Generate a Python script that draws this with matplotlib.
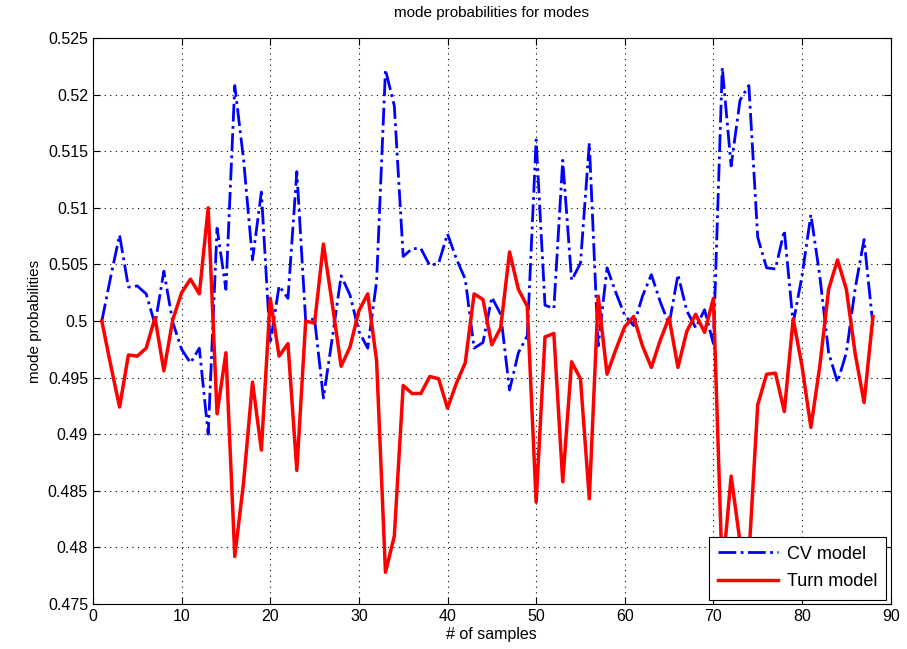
import matplotlib
matplotlib.use("Agg")
import matplotlib.pyplot as plt
from matplotlib import font_manager

samples = list(range(1, 89))

turn_model = [
    0.5000, 0.4961, 0.4924, 0.4970, 0.4969, 0.4976, 0.5003, 0.4956, 0.5001, 0.5025,
    0.5037, 0.5024, 0.5100, 0.4918, 0.4972, 0.4792, 0.4858, 0.4946, 0.4886, 0.5020,
    0.4969, 0.4980, 0.4868, 0.5000, 0.4998, 0.5068, 0.5015, 0.4960, 0.4977, 0.5009,
    0.5024, 0.4965, 0.4778, 0.4810, 0.4943, 0.4936, 0.4936, 0.4951, 0.4949, 0.4923,
    0.4945, 0.4963, 0.5024, 0.5019, 0.4979, 0.4994, 0.5061, 0.5028, 0.5013, 0.4840,
    0.4986, 0.4989, 0.4858, 0.4964, 0.4949, 0.4843, 0.5022, 0.4953, 0.4975, 0.4995,
    0.5004, 0.4978, 0.4959, 0.4983, 0.5003, 0.4959, 0.4991, 0.5006, 0.4990, 0.5020,
    0.4776, 0.4863, 0.4805, 0.4792, 0.4926, 0.4953, 0.4954, 0.4920, 0.5002, 0.4960,
    0.4906, 0.4960, 0.5028, 0.5054, 0.5028, 0.4971, 0.4928, 0.5004,
]

cv_model = [
    0.5000, 0.5039, 0.5076, 0.5030, 0.5031, 0.5024, 0.4997, 0.5044, 0.4999, 0.4975,
    0.4963, 0.4976, 0.4900, 0.5082, 0.5028, 0.5208, 0.5142, 0.5054, 0.5114, 0.4980,
    0.5031, 0.5020, 0.5132, 0.5000, 0.5002, 0.4932, 0.4985, 0.5040, 0.5023, 0.4991,
    0.4976, 0.5035, 0.5222, 0.5190, 0.5057, 0.5064, 0.5064, 0.5049, 0.5051, 0.5077,
    0.5055, 0.5037, 0.4976, 0.4981, 0.5021, 0.5006, 0.4939, 0.4972, 0.4987, 0.5160,
    0.5014, 0.5011, 0.5142, 0.5036, 0.5051, 0.5157, 0.4978, 0.5047, 0.5025, 0.5005,
    0.4996, 0.5022, 0.5041, 0.5017, 0.4997, 0.5041, 0.5009, 0.4994, 0.5010, 0.4980,
    0.5224, 0.5137, 0.5195, 0.5208, 0.5074, 0.5047, 0.5046, 0.5080, 0.4998, 0.5040,
    0.5094, 0.5040, 0.4972, 0.4946, 0.4972, 0.5029, 0.5072, 0.4996,
]

x_ticks = [0, 10, 20, 30, 40, 50, 60, 70, 80, 90]
y_ticks = [0.475, 0.48, 0.485, 0.49, 0.495, 0.5, 0.505, 0.51, 0.515, 0.52, 0.525]
y_tick_labels = ["0.475", "0.48", "0.485", "0.49", "0.495", "0.5", "0.505", "0.51", "0.515", "0.52", "0.525"]

names = {f.name for f in font_manager.fontManager.ttflist}
fam = "Liberation Sans Narrow" if "Liberation Sans Narrow" in names else "Liberation Sans"
plt.rcParams["font.family"] = [fam, "DejaVu Sans"]
plt.rcParams["font.size"] = 11

fig = plt.figure(figsize=(9.07, 6.49), dpi=100)
ax = fig.add_axes([0.1025, 0.0693, 0.8795, 0.8721])

ax.plot(samples, cv_model, color="#0000ff", linestyle="-.", linewidth=2.0, label="CV model")
ax.plot(samples, turn_model, color="#ff0000", linestyle="-", linewidth=2.5, label="Turn model")

ax.set_xlim(0, 90)
ax.set_ylim(0.475, 0.525)
ax.set_xticks(x_ticks)
ax.set_yticks(y_ticks)
ax.set_yticklabels(y_tick_labels)
ax.grid(True, color="black", linestyle=(0, (1, 4)), linewidth=0.8)
ax.tick_params(direction="in", top=True, right=True, length=5, width=0.8, labelsize=11.5)
for s in ax.spines.values():
    s.set_linewidth(0.8)

ax.set_title("mode probabilities for modes", fontsize=11, pad=15)
ax.set_xlabel("# of samples", fontsize=11.5, labelpad=2)
ax.set_ylabel("mode probabilities", fontsize=11, labelpad=4)

leg = ax.legend(loc="lower right", fancybox=False, edgecolor="black", framealpha=1,
                fontsize=13, handlelength=3.3, handletextpad=0.5, borderaxespad=0.25,
                borderpad=0.5, labelspacing=0.6)
leg.get_frame().set_linewidth(0.8)

fig.savefig("out.png", dpi=100, facecolor="white")
